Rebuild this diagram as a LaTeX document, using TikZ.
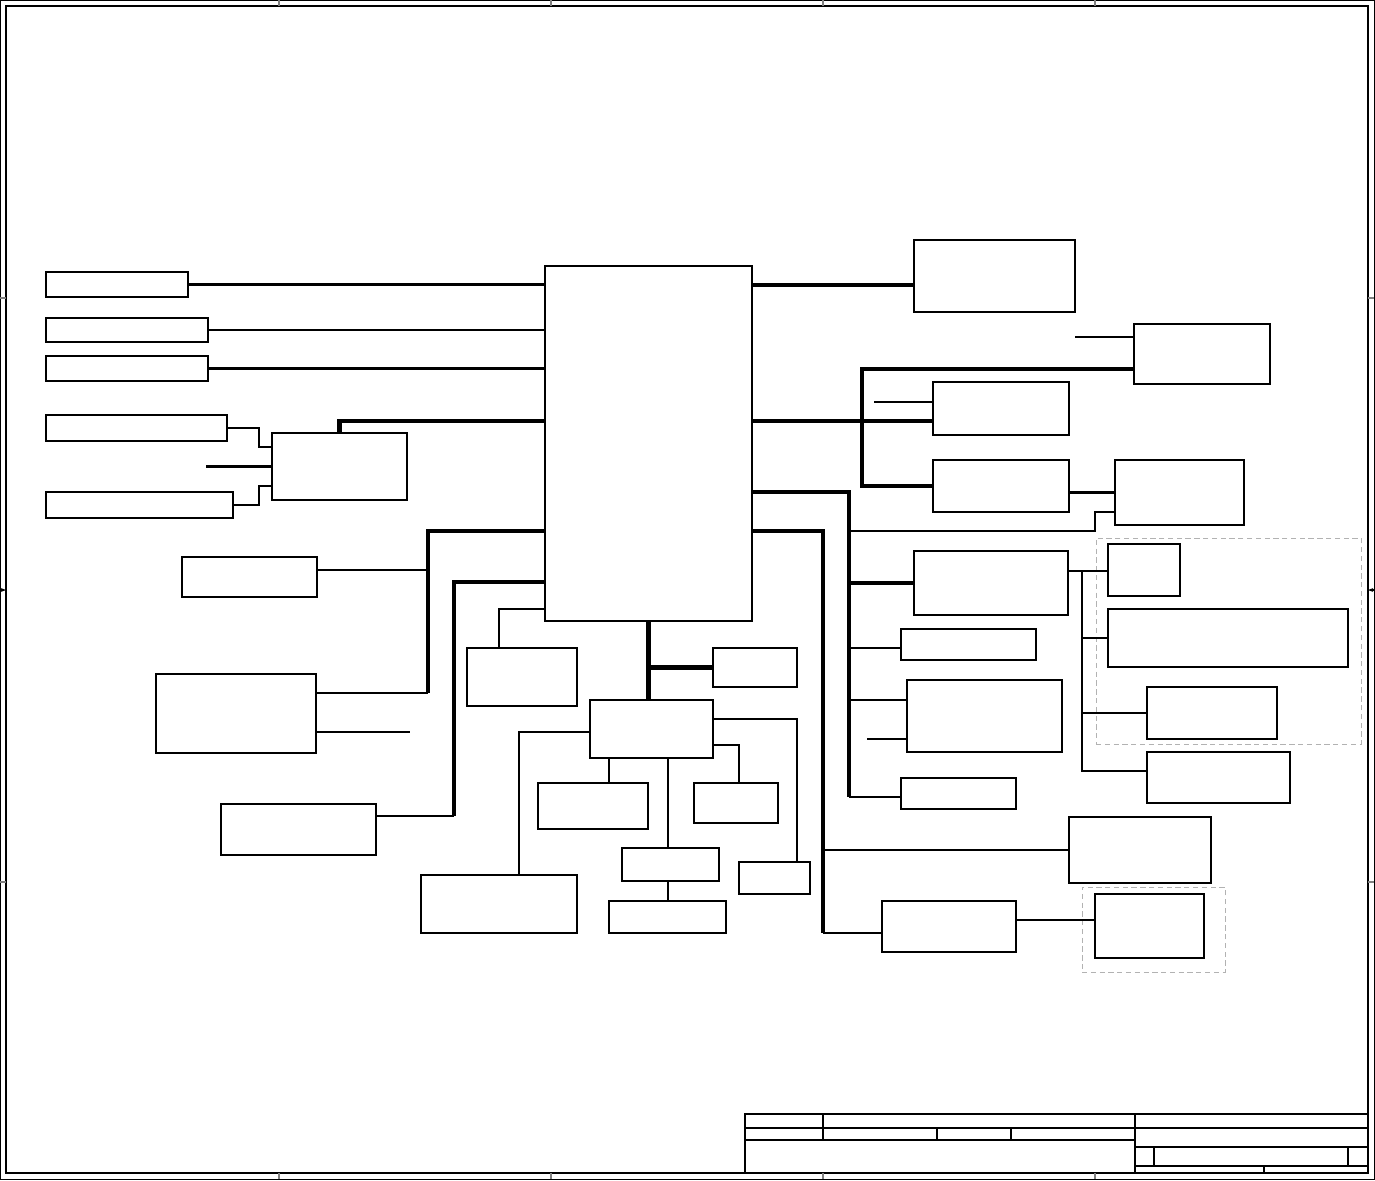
\documentclass[tikz,border=0pt]{standalone}
\usepackage{tikz}
\usetikzlibrary{fit,arrows.meta}

\begin{document}
\begin{tikzpicture}[x=0.02cm,y=-0.02cm,
  blk/.style={draw,line width=1.1pt,inner sep=0pt},
  grp/.style={draw=gray!60,densely dashed,line width=0.5pt,inner sep=0pt},
  wire/.style={line width=1.25pt},
  fine/.style={line width=0.8pt},
  bus/.style={line width=2.3pt}]
\useasboundingbox (0,0) rectangle (1375,1180);

% Sheet frame
\draw[line width=0.6pt] (0.5,0.5) rectangle (1374.5,1179.5);
\draw[line width=1.1pt] (6,6) rectangle (1368,1173);
\foreach \x in {279,551,823,1095} {
  \draw[gray,line width=0.6pt] (\x,0) -- (\x,6);
  \draw[gray,line width=0.6pt] (\x,1173) -- (\x,1179);
}
\foreach \y in {298,882} {
  \draw[gray,line width=0.6pt] (0,\y) -- (6,\y);
  \draw[gray,line width=0.6pt] (1368,\y) -- (1374,\y);
}
\draw[-{Stealth[length=3pt]},line width=0.6pt] (0,590) -- (6,590);
\draw[-{Stealth[length=3pt]},line width=0.6pt] (1374,590) -- (1368,590);

% Title block
\draw[wire] (745,1173) -- (745,1114) -- (1368,1114);
\draw[wire] (745,1128) -- (1368,1128);
\draw[wire] (745,1140) -- (1135,1140);
\draw[wire] (823,1114) -- (823,1140);
\draw[wire] (937,1128) -- (937,1140);
\draw[wire] (1011,1128) -- (1011,1140);
\draw[wire] (1135,1114) -- (1135,1173);
\draw[wire] (1135,1147) -- (1368,1147);
\draw[wire] (1135,1166) -- (1368,1166);
\draw[wire] (1154,1147) -- (1154,1166);
\draw[wire] (1348,1147) -- (1348,1166);
\draw[wire] (1264,1166) -- (1264,1173);

% Blocks
\node[blk,fit={(545,266) (752,621)}] (cpu) {};
\node[blk,fit={(46,272) (188,297)}] (l1) {};
\node[blk,fit={(46,318) (208,342)}] (l2) {};
\node[blk,fit={(46,356) (208,381)}] (l3) {};
\node[blk,fit={(46,415) (227,441)}] (l4) {};
\node[blk,fit={(272,433) (407,500)}] (hub) {};
\node[blk,fit={(46,492) (233,518)}] (l5) {};
\node[blk,fit={(182,557) (317,597)}] (l6) {};
\node[blk,fit={(156,674) (316,753)}] (l7) {};
\node[blk,fit={(221,804) (376,855)}] (l8) {};
\node[blk,fit={(467,648) (577,706)}] (b1) {};
\node[blk,fit={(713,648) (797,687)}] (b2) {};
\node[blk,fit={(590,700) (713,758)}] (pch) {};
\node[blk,fit={(421,875) (577,933)}] (b3) {};
\node[blk,fit={(538,783) (648,829)}] (b4) {};
\node[blk,fit={(622,848) (719,881)}] (b5) {};
\node[blk,fit={(609,901) (726,933)}] (b6) {};
\node[blk,fit={(694,783) (778,823)}] (b7) {};
\node[blk,fit={(739,862) (810,894)}] (b8) {};
\node[blk,fit={(914,240) (1075,312)}] (r1) {};
\node[blk,fit={(1134,324) (1270,384)}] (r2) {};
\node[blk,fit={(933,382) (1069,435)}] (r3) {};
\node[blk,fit={(933,460) (1069,512)}] (r4) {};
\node[blk,fit={(1115,460) (1244,525)}] (r5) {};
\node[blk,fit={(914,551) (1068,615)}] (r6) {};
\node[blk,fit={(1108,544) (1180,596)}] (r7) {};
\node[blk,fit={(1108,609) (1348,667)}] (r8) {};
\node[blk,fit={(1147,687) (1277,739)}] (r9) {};
\node[blk,fit={(1147,752) (1290,803)}] (r10) {};
\node[blk,fit={(901,629) (1036,660)}] (r11) {};
\node[blk,fit={(907,680) (1062,752)}] (r12) {};
\node[blk,fit={(901,778) (1016,809)}] (r13) {};
\node[blk,fit={(1069,817) (1211,883)}] (r14) {};
\node[blk,fit={(882,901) (1016,952)}] (r15) {};
\node[blk,fit={(1095,894) (1204,958)}] (r16) {};
\node[grp,fit={(1096,538) (1361,744)}] (grpA) {};
\node[grp,fit={(1082,887) (1225,972)}] (grpB) {};

% Left side links
\draw[wire] (l1.east) -- (l1.east -| cpu.west);
\draw[fine] (l2.east) -- (l2.east -| cpu.west);
\draw[wire] (l3.east) -- (l3.east -| cpu.west);
\draw[wire] (l4.east) -| (259,447) -- (hub.west |- 0,447);
\draw[wire] (l5.east) -| (259,486) -- (hub.west |- 0,486);
\draw[wire] (hub.west) -- ++(-65,0);
\draw[bus] (hub.north) |- (cpu.west |- 0,421);
\coordinate (j1) at (428,693);
\draw[bus] (cpu.west |- 0,531) -| (j1);
\draw[wire] (l6.east |- 0,570) -- (j1 |- 0,570);
\draw[wire] (l7.east |- j1) -- (j1);
\draw[wire] (l7.east |- 0,732) -- ++(93,0);
\coordinate (j2) at (454,816);
\draw[bus] (cpu.west |- 0,582) -| (j2);
\draw[fine] (l8.east |- j2) -- (j2);
\draw[wire] (cpu.west |- 0,609) -| (b1.north -| 499,0);

% Bottom links
\draw[bus] (cpu.south) -- (cpu.south |- pch.north);
\draw[bus] (cpu.south |- b2.west) -- (b2.west);
\draw[wire] (pch.west |- 0,732) -| (b3.north -| 519,0);
\draw[wire] (pch.south -| 609,0) -- (b4.north -| 609,0);
\draw[wire] (pch.south -| 668,0) -- (b5.north -| 668,0);
\draw[wire] (b5.south -| 668,0) -- (b6.north -| 668,0);
\draw[wire] (pch.east |- 0,745) -| (b7.north -| 739,0);
\draw[wire] (pch.east |- 0,719) -| (b8.north -| 797,0);

% Right side links
\draw[bus] (cpu.east |- 0,285) -- (r1.west |- 0,285);
\draw[wire] (r2.west |- 0,337) -- ++(-58,0);
\draw[bus] (r2.west |- 0,369) -| (r4.west -| 862,0) -- (r4.west);
\draw[bus] (cpu.east |- 0,421) -- (r3.west |- 0,421);
\draw[wire] (r3.west |- 0,402) -- ++(-58,0);
\draw[line width=1.7pt] (r4.east |- 0,492) -- (r5.west |- 0,492);
\coordinate (j3) at (849,797);
\draw[bus] (cpu.east |- 0,492) -| (j3);
\draw[wire] (j3 |- 0,531) -- (1095,531) |- (r5.west |- 0,512);
\draw[bus] (j3 |- r6.west) -- (r6.west);
\draw[wire] (j3 |- 0,648) -- (r11.west |- 0,648);
\draw[wire] (j3 |- 0,700) -- (r12.west |- 0,700);
\draw[wire] (r12.west |- 0,739) -- ++(-39,0);
\draw[wire] (j3) -- (r13.west |- j3);
\coordinate (j4) at (823,933);
\draw[bus] (cpu.east |- 0,531) -| (j4);
\draw[wire] (j4 |- r14.west) -- (r14.west);
\draw[wire] (j4) -- (r15.west |- j4);
\draw[wire] (r15.east |- 0,920) -- (r16.west |- 0,920);
\coordinate (k1) at (1082,571);
\draw[wire] (r6.east |- k1) -- (r7.west |- k1);
\draw[wire] (k1) |- (r10.west |- 0,771);
\draw[fine] (k1 |- r8.west) -- (r8.west);
\draw[wire] (k1 |- r9.west) -- (r9.west);
\end{tikzpicture}
\end{document}
